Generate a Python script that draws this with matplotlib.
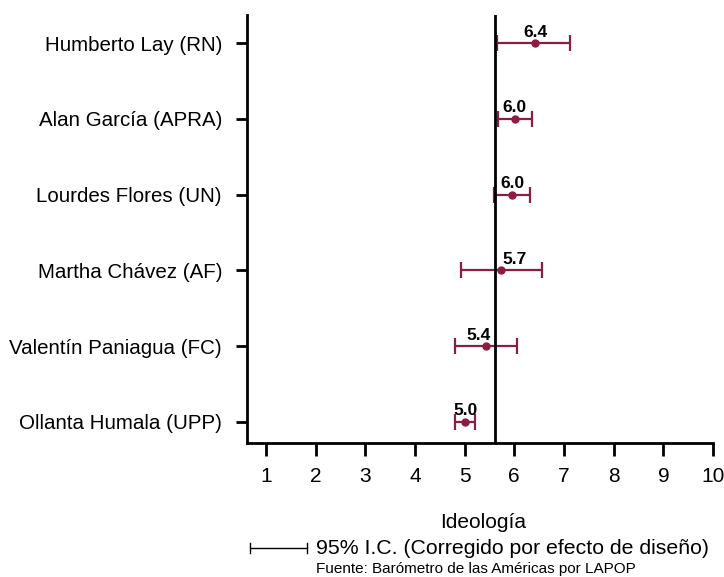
import matplotlib
matplotlib.use("Agg")
import matplotlib.pyplot as plt
from matplotlib.lines import Line2D

plt.rcParams["font.family"] = ["Liberation Sans", "DejaVu Sans"]

RED = "#8c1c46"

candidatos = ["Ollanta Humala (UPP)", "Valentín Paniagua (FC)", "Martha Chávez (AF)",
              "Lourdes Flores (UN)", "Alan García (APRA)", "Humberto Lay (RN)"]
media = [5.01, 5.43, 5.73, 5.96, 6.01, 6.42]
ic_bajo = [4.80, 4.81, 4.92, 5.59, 5.67, 5.65]
ic_alto = [5.21, 6.05, 6.56, 6.32, 6.36, 7.12]
media_total = 5.61
ticks_x = [1, 2, 3, 4, 5, 6, 7, 8, 9, 10]
# desplazamiento horizontal de las etiquetas (px) para no tapar la línea vertical
dx_etiqueta = [0, -7, 14, 0, 0, 0]

fig = plt.figure(figsize=(7.24, 5.77), dpi=100)
ax = fig.add_axes([247/724, 1-443/577, (713-247)/724, (443-15)/577])

y = list(range(len(candidatos)))
err = [[m - lo for m, lo in zip(media, ic_bajo)], [hi - m for m, hi in zip(media, ic_alto)]]
ax.errorbar(media, y, xerr=err, fmt="o", color=RED, ms=5, lw=1.6, capsize=6, capthick=1.6)
for m, yi, dx in zip(media, y, dx_etiqueta):
    ax.annotate(f"{m:.1f}", (m, yi), xytext=(dx*0.72, 2.5), textcoords="offset points",
                ha="center", va="bottom", fontsize=12.5, fontweight="bold")

ax.axvline(media_total, color="black", lw=2)

ax.set_xlim(0.62, 10)
ax.set_ylim(-0.28, 5.37)
ax.set_xticks(ticks_x)
ax.set_yticks(y)
ax.set_yticklabels(candidatos, fontsize=14.8)
ax.tick_params(axis="x", labelsize=15, length=9, width=2, pad=8, direction="out")
ax.tick_params(axis="y", length=8, width=2, pad=10)
for s in ["top", "right"]:
    ax.spines[s].set_visible(False)
for s in ["left", "bottom"]:
    ax.spines[s].set_linewidth(2)

fig.text(483/724, 1-523/577, "Ideología", ha="center", va="center", fontsize=15)
fig.add_artist(Line2D([250/724, 307/724], [1-548/577, 1-548/577], color="black", lw=1))
for xx in [250, 307]:
    fig.add_artist(Line2D([xx/724, xx/724], [1-543/577, 1-553/577], color="black", lw=1))
fig.text(316/724, 1-548/577, "95% I.C. (Corregido por efecto de diseño)", ha="left",
         va="center", fontsize=15.3)
fig.text(476/724, 1-569/577, "Fuente: Barómetro de las Américas por LAPOP", ha="center",
         va="center", fontsize=11)

fig.savefig("out.png", dpi=100, facecolor="white")
